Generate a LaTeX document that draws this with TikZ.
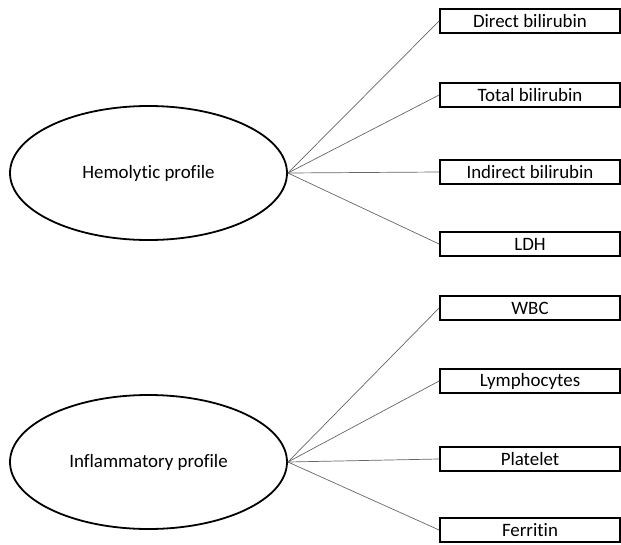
\documentclass[tikz,border=0pt]{standalone}
\usepackage{fontspec}
\setmainfont[Ligatures=NoCommon]{Carlito}
\usetikzlibrary{positioning,shapes.geometric}

\begin{document}
\begin{tikzpicture}[x=1pt,y=-1pt,font=\fontsize{18.9}{22}\selectfont,
  profile node/.style={ellipse,draw,line width=1.8pt,minimum width=277pt,minimum height=134pt,inner sep=0pt},
  test node/.style={rectangle,draw,line width=1.8pt,minimum width=180pt,minimum height=24pt,inner sep=0pt}]

  \useasboundingbox (0,0) rectangle (621,544);

  \node[profile node] (hem) at (148.5,173) {Hemolytic profile};
  \node[profile node] (inf) at (148.5,462) {Inflammatory profile};

  \node[test node] (dbil) at (530,21) {Direct bilirubin};
  \node[test node] (tbil) at (530,95) {Total bilirubin};
  \node[test node] (ibil) at (530,172) {Indirect bilirubin};
  \node[test node] (ldh) at (530,244) {LDH};
  \node[test node] (wbc) at (530,308) {WBC};
  \node[test node] (lym) at (530,381) {Lymphocytes};
  \node[test node] (plt) at (530,459) {Platelet};
  \node[test node] (fer) at (530,530) {Ferritin};

  \path[draw=gray!80!black,line width=0.7pt]
    (hem.east) edge (dbil.west)
               edge (tbil.west)
               edge (ibil.west)
               edge (ldh.west)
    (inf.east) edge (wbc.west)
               edge (lym.west)
               edge (plt.west)
               edge (fer.west);
\end{tikzpicture}
\end{document}
